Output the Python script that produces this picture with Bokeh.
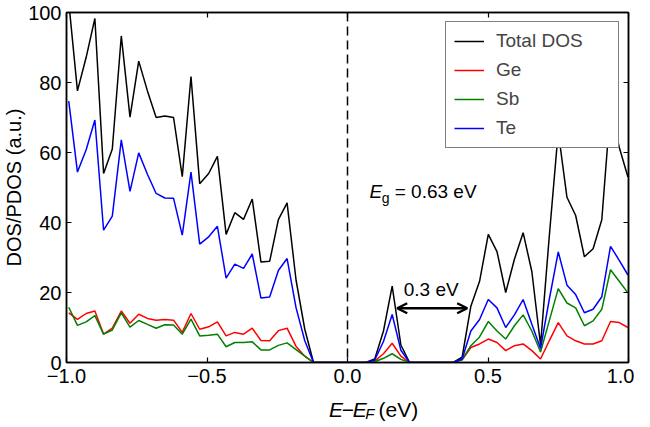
from bokeh.plotting import figure
from bokeh.layouts import column
from bokeh.models import (Range1d, LinearAxis, Span, Label, Arrow, OpenHead,
                          Legend, LegendItem, FixedTicker, ColumnDataSource,
                          CustomJSTickFormatter)
from bokeh.embed import file_html
from bokeh.resources import INLINE

# ---------------- data ----------------
energy = [-0.992, -0.961, -0.930, -0.899, -0.868, -0.837, -0.805, -0.774, -0.743, -0.712,
          -0.681, -0.650, -0.619, -0.588, -0.557, -0.526, -0.494, -0.463, -0.432, -0.401,
          -0.370, -0.339, -0.308, -0.277, -0.246, -0.215, -0.183, -0.152, -0.121, -0.090,
          -0.059, -0.028, 0.003, 0.034, 0.065, 0.097, 0.128, 0.159, 0.190, 0.221,
          0.252, 0.283, 0.314, 0.345, 0.376, 0.408, 0.439, 0.470, 0.501, 0.532,
          0.563, 0.594, 0.625, 0.656, 0.687, 0.718, 0.750, 0.781, 0.812, 0.843,
          0.874, 0.905, 0.936, 0.967, 0.998]

total_dos = [103, 77.6, 87.2, 98.3, 54.0, 61.0, 93.3, 70.1, 86.1, 77.6,
             70.0, 70.4, 70.0, 53.1, 81.7, 51.1, 54.0, 58.9, 36.6, 42.8,
             40.9, 46.7, 28.7, 28.9, 40.8, 45.6, 23.5, 9.5, 0, 0,
             0, 0, 0, 0, 0, 1.0, 9.0, 21.8, 5.0, 0,
             0, 0, 0, 0, 0, 1.5, 16.1, 23.2, 36.6, 31.7,
             20.0, 29.5, 37.1, 26.0, 5.0, 36.0, 66.0, 47.2, 42.0, 30.2,
             32.5, 40.8, 73.0, 61.5, 53.0]

ge_dos = [14.2, 12.3, 14.0, 14.7, 8.1, 9.8, 14.7, 11.2, 13.8, 12.6,
          12.1, 12.3, 12.1, 8.6, 14.0, 9.5, 10.2, 11.6, 7.6, 8.6,
          8.1, 9.8, 6.3, 6.2, 9.1, 9.8, 4.6, 1.8, 0, 0,
          0, 0, 0, 0, 0, 0.4, 2.5, 5.5, 1.8, 0,
          0, 0, 0, 0, 0, 0.8, 4.3, 5.3, 6.7, 5.7,
          3.4, 4.8, 5.3, 3.4, 1.0, 6.2, 11.4, 7.6, 6.2, 5.3,
          5.3, 6.2, 11.7, 11.4, 10.0]

sb_dos = [15.8, 10.6, 11.6, 13.4, 8.1, 9.3, 14.2, 10.1, 12.0, 10.9,
          9.8, 10.8, 10.7, 8.1, 12.4, 7.6, 7.8, 8.1, 4.5, 5.7,
          5.7, 5.9, 3.6, 3.6, 4.9, 5.6, 3.7, 1.8, 0, 0,
          0, 0, 0, 0, 0, 0.2, 1.2, 2.5, 0.9, 0,
          0, 0, 0, 0, 0, 0.8, 4.8, 7.3, 11.7, 9.0,
          6.7, 10.5, 13.6, 9.0, 3.0, 11.9, 21.1, 17.0, 15.6, 10.5,
          11.9, 15.2, 26.5, 23.2, 19.9]

te_dos = [74.7, 54.4, 60.8, 69.3, 37.8, 41.8, 63.6, 48.9, 59.9, 53.8,
          48.3, 47.0, 46.9, 36.4, 54.4, 33.8, 35.9, 38.9, 24.1, 28.1,
          26.9, 31.0, 18.4, 18.7, 26.3, 29.7, 15.6, 6.2, 0, 0,
          0, 0, 0, 0, 0, 0.7, 6.0, 13.7, 3.5, 0,
          0, 0, 0, 0, 0, 1.0, 9.0, 12.3, 18.0, 15.6,
          10.0, 13.6, 18.0, 10.9, 4.0, 18.0, 31.6, 22.1, 19.4, 14.2,
          15.2, 18.8, 33.2, 29.2, 25.0]

series_names = ["Total DOS", "Ge", "Sb", "Te"]
series_colors = ["#000000", "#ff0000", "#008000", "#0000ff"]

x_ticks = [-1.0, -0.5, 0.0, 0.5, 1.0]
x_tick_labels = ["\u22121.0", "\u22120.5", "0.0", "0.5", "1.0"]
y_ticks = [0, 20, 40, 60, 80, 100]

fermi_level = 0.0
gap_text = "0.3 eV"
gap_arrow = (0.177, 0.426, 15.5)   # x_start, x_end, y
eg_text = "= 0.63 eV"

FONT = "Liberation Sans"
W = 634

# ---------------- main figure ----------------
p = figure(width=W, height=392, x_range=Range1d(-1, 1), y_range=Range1d(0, 100),
           output_backend="svg", toolbar_location=None,
           min_border_left=59, min_border_right=6, min_border_top=12, min_border_bottom=30)
p.background_fill_color = "white"
p.border_fill_color = "white"
p.outline_line_color = "black"
p.outline_line_width = 1.5
p.xgrid.grid_line_color = None
p.ygrid.grid_line_color = None

src = ColumnDataSource(dict(e=energy, total=total_dos, ge=ge_dos, sb=sb_dos, te=te_dos))
renderers = []
for col, color in zip(["total", "ge", "sb", "te"], series_colors):
    r = p.line("e", col, source=src, line_color=color, line_width=1.5)
    renderers.append(r)

for ax in [p.xaxis[0], p.yaxis[0]]:
    ax.axis_line_width = 1.5
    ax.major_tick_in = 5
    ax.major_tick_out = 0
    ax.minor_tick_in = 0
    ax.minor_tick_out = 0
    ax.major_tick_line_width = 1.2
    ax.major_label_text_font = FONT
    ax.major_label_text_font_size = "20px"
    ax.major_label_text_color = "black"

p.xaxis[0].major_label_standoff = 6
p.yaxis[0].major_label_standoff = 5
p.xaxis[0].ticker = FixedTicker(ticks=x_ticks)
p.xaxis[0].major_label_overrides = dict(zip(x_ticks, x_tick_labels))
p.yaxis[0].ticker = FixedTicker(ticks=y_ticks)
p.yaxis[0].axis_label = "DOS/PDOS (a.u.)"
p.yaxis[0].axis_label_text_font = FONT
p.yaxis[0].axis_label_text_font_size = "20px"
p.yaxis[0].axis_label_text_font_style = "normal"
p.yaxis[0].axis_label_text_color = "black"
p.yaxis[0].axis_label_standoff = 0

# mirrored ticks on top and right
for side, ticks in (("above", x_ticks), ("right", y_ticks)):
    ax = LinearAxis(ticker=FixedTicker(ticks=ticks),
                    formatter=CustomJSTickFormatter(code="return ''"),
                    axis_line_width=1.5, major_tick_in=5, major_tick_out=0,
                    minor_tick_in=0, minor_tick_out=0, major_tick_line_width=1.2,
                    major_label_standoff=0)
    p.add_layout(ax, side)

p.add_layout(Span(location=fermi_level, dimension="height", line_color="black",
                  line_width=1.5, line_dash="9 5"))

ax0, ax1, ay = gap_arrow
p.add_layout(Arrow(x_start=ax0, y_start=ay, x_end=ax1, y_end=ay, line_width=2.5,
                   line_color="black",
                   start=OpenHead(size=10, line_width=2.5, line_color="black"),
                   end=OpenHead(size=10, line_width=2.5, line_color="black")))
p.add_layout(Label(x=0.298, y=21.0, text=gap_text, text_align="center",
                   text_baseline="alphabetic", text_font=FONT, text_font_size="19px",
                   text_color="black"))

p.add_layout(Label(x=0.078, y=48.8, text="E", text_font=FONT, text_font_size="19px",
                   text_font_style="italic", text_baseline="alphabetic", text_color="black"))
p.add_layout(Label(x=0.122, y=46.9, text="g", text_font=FONT, text_font_size="14px",
                   text_baseline="alphabetic", text_color="black"))
p.add_layout(Label(x=0.168, y=48.8, text=eg_text, text_font=FONT, text_font_size="19px",
                   text_baseline="alphabetic", text_color="black"))

items = [LegendItem(label=n, renderers=[r]) for n, r in zip(series_names, renderers)]
legend = Legend(items=items, location="top_right", margin=9,
                border_line_color="black", border_line_width=1.5,
                background_fill_color="white", background_fill_alpha=1.0,
                label_text_font=FONT, label_text_font_size="19px",
                glyph_width=30, glyph_height=20, label_height=20, label_width=114,
                label_standoff=12, spacing=7, padding=8)
p.add_layout(legend)

# ---------------- x-axis title strip: E−E_F (eV) ----------------
q = figure(width=W, height=30, x_range=Range1d(0, W), y_range=Range1d(0, 30),
           output_backend="svg", toolbar_location=None, title=None,
           x_axis_location=None, y_axis_location=None,
           min_border_left=0, min_border_right=0, min_border_top=0, min_border_bottom=0)
q.title = None
q.outline_line_color = None
q.xgrid.grid_line_color = None
q.ygrid.grid_line_color = None
q.background_fill_color = "white"
q.border_fill_color = "white"

base = 13
xlab = [("E", 296, 0, "21px", "italic"),
        ("\u2212", 310.5, 0, "21px", "normal"),
        ("E", 323, 0, "21px", "italic"),
        ("F", 337, -4, "15px", "italic"),
        ("(eV)", 352, 0, "21px", "normal")]
for t, xx, dy, fs, st in xlab:
    q.add_layout(Label(x=xx, y=base + dy, text=t, text_font=FONT,
                       text_font_size=fs, text_font_style=st, text_baseline="alphabetic",
                       text_color="black"))

layout = column(p, q, spacing=0)
open("out.html", "w").write(file_html(layout, INLINE))
